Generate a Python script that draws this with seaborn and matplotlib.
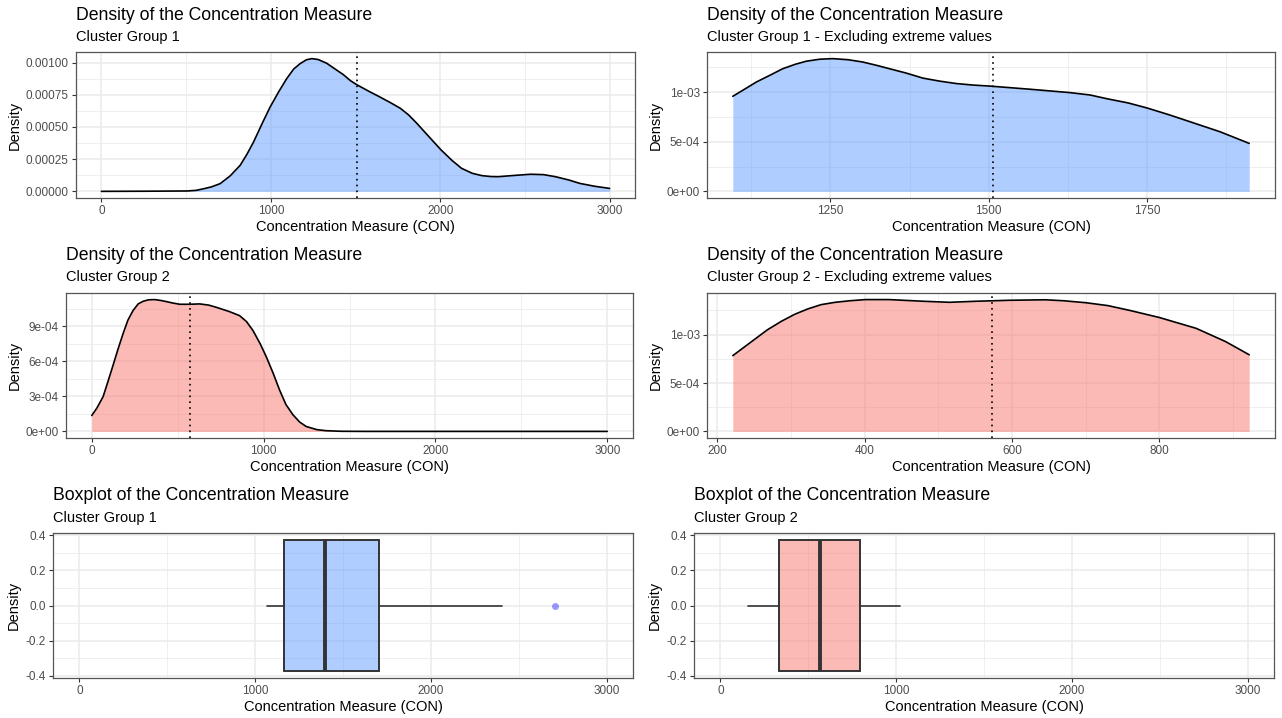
import numpy as np
import pandas as pd
import matplotlib
matplotlib.use("Agg")
import matplotlib.pyplot as plt
import seaborn as sns
from matplotlib.ticker import FixedLocator, FuncFormatter

# ---------------- data ----------------
title_density = "Density of the Concentration Measure"
title_box = "Boxplot of the Concentration Measure"
subtitles = ["Cluster Group 1", "Cluster Group 1 - Excluding extreme values",
             "Cluster Group 2", "Cluster Group 2 - Excluding extreme values",
             "Cluster Group 1", "Cluster Group 2"]
xlabel = "Concentration Measure (CON)"
ylabel = "Density"

# Cluster 1 density (full range)
c1_x = [0, 250, 505, 560, 603, 650, 701, 760, 819, 860, 898, 950, 996, 1045,
        1094, 1135, 1173, 1210, 1242, 1280, 1330, 1380, 1428, 1470, 1507, 1575,
        1644, 1705, 1765, 1815, 1861, 1930, 2005, 2070, 2126, 2190, 2247, 2300,
        2343, 2440, 2535, 2610, 2680, 2760, 2824, 2910, 3000]
c1_y = [0.0, 0.000001, 0.000003, 0.000008, 0.00002, 0.000035, 0.00006, 0.00012,
        0.000202, 0.00029, 0.000383, 0.00053, 0.000655, 0.00077, 0.000876,
        0.00095, 0.000992, 0.001022, 0.001031, 0.001024, 0.000995, 0.00095,
        0.000907, 0.00086, 0.000829, 0.00078, 0.000733, 0.00069, 0.000645,
        0.000592, 0.00053, 0.00043, 0.000322, 0.00024, 0.000179, 0.00014,
        0.000122, 0.000115, 0.000114, 0.000124, 0.000133, 0.00013, 0.000114,
        0.000088, 0.000062, 0.00004, 0.000023]
c1_mean = 1510

# Cluster 1 density excluding extreme values
c1e_x = [1096, 1115, 1133, 1155, 1175, 1195, 1212, 1233, 1254, 1278, 1301, 1322,
         1343, 1370, 1396, 1422, 1449, 1475, 1501, 1565, 1628, 1660, 1686, 1720,
         1750, 1785, 1818, 1865, 1911]
c1e_y = [0.000957, 0.00103, 0.0011, 0.00117, 0.001235, 0.00128, 0.00131,
         0.00133, 0.001336, 0.001325, 0.001302, 0.00127, 0.001235, 0.00119,
         0.00114, 0.00111, 0.001085, 0.00107, 0.00106, 0.001028, 0.000994,
         0.00097, 0.000933, 0.00089, 0.000839, 0.00077, 0.0007, 0.0006, 0.000483]
c1e_mean = 1506

# Cluster 2 density (full range)
c2_x = [0, 30, 66, 95, 124, 152, 182, 210, 240, 270, 298, 330, 366, 400, 434,
        470, 512, 570, 628, 680, 725, 800, 860, 900, 938, 980, 1016, 1055, 1093,
        1130, 1171, 1210, 1248, 1310, 1364, 1450, 1600, 2000, 2500, 3000]
c2_y = [0.000136, 0.0002, 0.000297, 0.00043, 0.000566, 0.0007, 0.000835, 0.00095,
        0.001033, 0.00109, 0.001112, 0.001125, 0.001127, 0.00112, 0.00111,
        0.001098, 0.001087, 0.001087, 0.00109, 0.00108, 0.001061, 0.001025,
        0.00099, 0.00094, 0.000863, 0.00075, 0.000637, 0.0005, 0.000354,
        0.00023, 0.000142, 0.00008, 0.000042, 0.000015, 0.000006, 0.000001,
        0.0, 0.0, 0.0, 0.0]
c2_mean = 572

# Cluster 2 density excluding extreme values
c2e_x = [221, 250, 268, 287, 305, 323, 341, 360, 380, 401, 433, 479, 515, 552,
         597, 645, 670, 700, 730, 760, 800, 850, 890, 922]
c2e_y = [0.000783, 0.000948, 0.00105, 0.001138, 0.00121, 0.001266, 0.00131,
         0.001334, 0.00135, 0.001362, 0.001362, 0.001345, 0.001334, 0.001345,
         0.001355, 0.00136, 0.00135, 0.00133, 0.0013, 0.00125, 0.001177,
         0.001065, 0.000928, 0.000792]
c2e_mean = 573

# Boxplot statistics: [whisker low, Q1, median, Q3, whisker high]
box1_stats = [1070, 1164, 1399, 1707, 2407]
box1_outliers = [2706]
box2_stats = [158, 335, 565, 792, 1020]
box2_outliers = []

blue = "#619CFF"
red = "#F8766D"

# ---------------- styling ----------------
sns.set_theme(style="white")
plt.rcParams['font.family'] = ['Liberation Sans', 'DejaVu Sans']

W, H = 1282, 718
fig = plt.figure(figsize=(W / 100, H / 100), dpi=100)

def rect(l, t, r, b):
    return [l / W, 1 - b / H, (r - l) / W, (b - t) / H]

def ptxt(x, y, s, **kw):
    fig.text(x / W, 1 - y / H, s, **kw)

GRID = "#EBEBEB"
TICKC = "#4D4D4D"

def style_ax(ax, xmaj, xmin, ymaj, ymin, yfmt, xlim, ylim):
    ax.set_xlim(*xlim)
    ax.set_ylim(*ylim)
    ax.xaxis.set_major_locator(FixedLocator(xmaj))
    ax.xaxis.set_minor_locator(FixedLocator(xmin))
    ax.yaxis.set_major_locator(FixedLocator(ymaj))
    ax.yaxis.set_minor_locator(FixedLocator(ymin))
    ax.yaxis.set_major_formatter(FuncFormatter(yfmt))
    ax.grid(True, which="major", color=GRID, lw=1.1, zorder=0)
    ax.grid(True, which="minor", color=GRID, lw=0.55, zorder=0)
    ax.set_axisbelow(True)
    for sp in ax.spines.values():
        sp.set_color("#555555")
        sp.set_linewidth(0.9)
        sp.set_visible(True)
    ax.tick_params(which="major", length=3.2, width=0.8, color="#333333",
                   labelsize=8.5, labelcolor=TICKC, pad=2, bottom=True, left=True)
    ax.tick_params(which="minor", length=0)
    ax.set_xlabel(xlabel, fontsize=10.5, color="black", labelpad=2)
    ax.set_ylabel(ylabel, fontsize=10.5, color="black", labelpad=3)

def lims(lo, hi):
    r = hi - lo
    return (lo - 0.05 * r, hi + 0.05 * r)

def sci(v, p):
    if abs(v) < 1e-12:
        return "0e+00"
    return f"{v:.0e}"

def dens_panel(box, xs, ys, mean, color, xmaj, xmin, ymaj, ymin, yfmt):
    ax = fig.add_axes(rect(*box))
    df = pd.DataFrame({"x": xs, "y": ys})
    ax.fill_between(df["x"], 0, df["y"], color=color, alpha=0.5, lw=0, zorder=2)
    sns.lineplot(data=df, x="x", y="y", ax=ax, color="black", lw=1.2, zorder=3,
                 sort=False)
    ax.axvline(mean, color="black", ls=(0, (1, 2.5)), lw=1.2, zorder=4)
    style_ax(ax, xmaj, xmin, ymaj, ymin, yfmt,
             lims(min(xs), max(xs)), lims(0, max(ys)))
    return ax

def box_panel(box, stats, outliers, color):
    ax = fig.add_axes(rect(*box))
    st = [dict(whislo=stats[0], q1=stats[1], med=stats[2], q3=stats[3],
               whishi=stats[4], fliers=outliers)]
    bp = ax.bxp(st, positions=[0], widths=0.75, vert=False, patch_artist=True,
                showcaps=False, showfliers=True,
                boxprops=dict(facecolor=matplotlib.colors.to_rgba(color, 0.5),
                              edgecolor="#333333", linewidth=1.4),
                medianprops=dict(color="#333333", linewidth=2.8),
                whiskerprops=dict(color="#333333", linewidth=1.2),
                flierprops=dict(marker="o", markersize=5,
                                markerfacecolor=matplotlib.colors.to_rgba("blue", 0.4),
                                markeredgecolor="none"))
    for p in bp["boxes"]:
        p.set_zorder(3)
    for m in bp["medians"]:
        m.set_zorder(5)
    style_ax(ax, [0, 1000, 2000, 3000], [500, 1500, 2500],
             [-0.4, -0.2, 0.0, 0.2, 0.4], [-0.3, -0.1, 0.1, 0.3],
             lambda v, p: f"{v:.1f}", lims(0, 3000), lims(-0.375, 0.375))
    return ax

# Panel 1
dens_panel((76, 52, 635, 198), c1_x, c1_y, c1_mean, blue,
           [0, 1000, 2000, 3000], [500, 1500, 2500],
           [0, 0.00025, 0.0005, 0.00075, 0.001], [0.000125, 0.000375, 0.000625, 0.000875],
           lambda v, p: f"{v:.5f}")
# Panel 2
dens_panel((707, 52, 1275, 198), c1e_x, c1e_y, c1e_mean, blue,
           [1250, 1500, 1750], [1125, 1375, 1625, 1875],
           [0, 0.0005, 0.001], [0.00025, 0.00075, 0.00125], sci)
# Panel 3
dens_panel((66, 293, 633, 438), c2_x, c2_y, c2_mean, red,
           [0, 1000, 2000, 3000], [500, 1500, 2500],
           [0, 0.0003, 0.0006, 0.0009], [0.00015, 0.00045, 0.00075, 0.00105], sci)
# Panel 4
dens_panel((707, 293, 1275, 438), c2e_x, c2e_y, c2e_mean, red,
           [200, 400, 600, 800], [300, 500, 700, 900],
           [0, 0.0005, 0.001], [0.00025, 0.00075, 0.00125], sci)
# Panel 5, 6
box_panel((53, 533, 633, 678), box1_stats, box1_outliers, blue)
box_panel((694, 533, 1274, 678), box2_stats, box2_outliers, red)

# Titles / subtitles
title_pos = [(76, 15, 37), (707, 15, 37), (66, 255, 277), (707, 255, 277),
             (53, 495, 518), (694, 495, 518)]
titles = [title_density] * 4 + [title_box] * 2
for (x, ty, sy), t, s in zip(title_pos, titles, subtitles):
    ptxt(x, ty, t, fontsize=12.7, va="center", ha="left", color="black")
    ptxt(x, sy, s, fontsize=10.5, va="center", ha="left", color="black")

fig.savefig("out.png", dpi=100, facecolor="white")
